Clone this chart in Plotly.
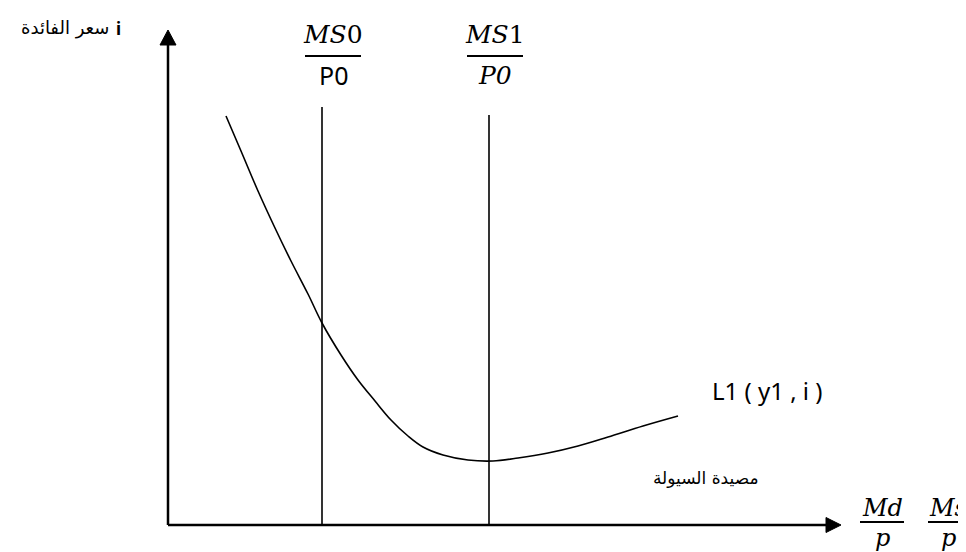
import plotly.graph_objects as go

# ---- diagram data (horizontal: real money quantity, vertical: interest rate) ----
x_axis_len = 673          # length of horizontal axis (to arrow tip)
y_axis_len = 495          # length of vertical axis (to arrow tip)
ms0_x = 154               # MS0/P0 supply line position
ms1_x = 321               # MS1/P0 supply line position
ms0_top = 418
ms1_top = 410

# liquidity preference curve L1(y1, i)
curve_x = [58, 73, 90, 107, 123, 140, 154, 173, 190, 207, 223, 240, 255, 275, 300,
           325, 350, 380, 410, 440, 475, 510]
curve_y = [409, 374, 334, 297, 264, 231, 202, 170, 145, 124, 105, 89, 78, 70, 65,
           64, 67, 72, 79, 88, 99, 109]

y_label_ar = "سعر الفائدة"
y_label_sym = "i"
curve_label = "L1 ( y1 , i )"
trap_label = "مصيدة السيولة"

W, H = 966, 552
ox, oy = 160, 517  # where the origin sits on the page (axis ranges only)

fig = go.Figure()

# axes lines
fig.add_trace(go.Scatter(x=[0, x_axis_len - 14], y=[0, 0], mode="lines",
                         line=dict(color="black", width=2.5), hoverinfo="skip"))
fig.add_trace(go.Scatter(x=[0, 0], y=[0, y_axis_len - 14], mode="lines",
                         line=dict(color="black", width=2.5), hoverinfo="skip"))
# arrow heads
ah, aw = 15, 7.5
fig.add_trace(go.Scatter(x=[x_axis_len, x_axis_len - ah, x_axis_len - ah, x_axis_len],
                         y=[0, aw, -aw, 0], mode="lines", fill="toself",
                         fillcolor="black", line=dict(color="black", width=1), hoverinfo="skip"))
fig.add_trace(go.Scatter(x=[0, aw + 0.5, -aw - 0.5, 0],
                         y=[y_axis_len, y_axis_len - ah, y_axis_len - ah, y_axis_len],
                         mode="lines", fill="toself",
                         fillcolor="black", line=dict(color="black", width=1), hoverinfo="skip"))

# supply lines
fig.add_trace(go.Scatter(x=[ms0_x, ms0_x], y=[0, ms0_top], mode="lines",
                         line=dict(color="black", width=1.6), hoverinfo="skip"))
fig.add_trace(go.Scatter(x=[ms1_x, ms1_x], y=[0, ms1_top], mode="lines",
                         line=dict(color="black", width=1.6), hoverinfo="skip"))

# liquidity preference curve
fig.add_trace(go.Scatter(x=curve_x, y=curve_y, mode="lines",
                         line=dict(color="black", width=1.6, shape="spline", smoothing=1.0),
                         hoverinfo="skip"))

serif = "DejaVu Serif"
sans = "Noto Sans"
arab = "DejaVu Sans"


def frac(xc, num, den, ybar, half, num_dy, den_dy, den_font, size=25):
    fig.add_shape(type="line", x0=xc - half, x1=xc + half, y0=ybar, y1=ybar,
                  line=dict(color="black", width=2))
    fig.add_annotation(x=xc, y=ybar + num_dy, text=num, showarrow=False, yanchor="middle",
                       font=dict(family=serif, size=size, color="black"))
    fig.add_annotation(x=xc, y=ybar - den_dy, text=den, showarrow=False, yanchor="middle",
                       font=dict(family=den_font, size=size, color="black"))


frac(ms0_x + 11, "<i>MS</i>0", "P0", 469, 28, 22, 19, sans)
frac(ms1_x + 6, "<i>MS</i>1", "<i>P0</i>", 469, 28, 22, 19, serif)
frac(714, "<i>Md</i>", "<i>p</i>", 3, 22, 14, 16, serif, size=24)
frac(780, "<i>Ms</i>", "<i>p</i>", 3, 20, 14, 16, serif, size=24)

fig.add_annotation(x=-50, y=497, text="<b>" + y_label_sym + "</b>", showarrow=False,
                   xanchor="center", font=dict(family=sans, size=17, color="black"))
fig.add_annotation(x=-57, y=497, text=y_label_ar, showarrow=False, xanchor="right",
                   font=dict(family=arab, size=18, color="black"))
fig.add_annotation(x=542, y=135, text=curve_label, showarrow=False, xanchor="left",
                   font=dict(family=sans, size=24, color="black"))
fig.add_annotation(x=593, y=47, text=trap_label, showarrow=False, xanchor="right",
                   font=dict(family=arab, size=17, color="black"))

fig.update_layout(
    width=W, height=H, autosize=False,
    margin=dict(l=0, r=0, t=0, b=0),
    plot_bgcolor="white", paper_bgcolor="white",
    showlegend=False,
    xaxis=dict(range=[-ox, W - ox], visible=False, fixedrange=True),
    yaxis=dict(range=[oy - H, oy], visible=False, fixedrange=True),
)

fig.write_html("out.html")
